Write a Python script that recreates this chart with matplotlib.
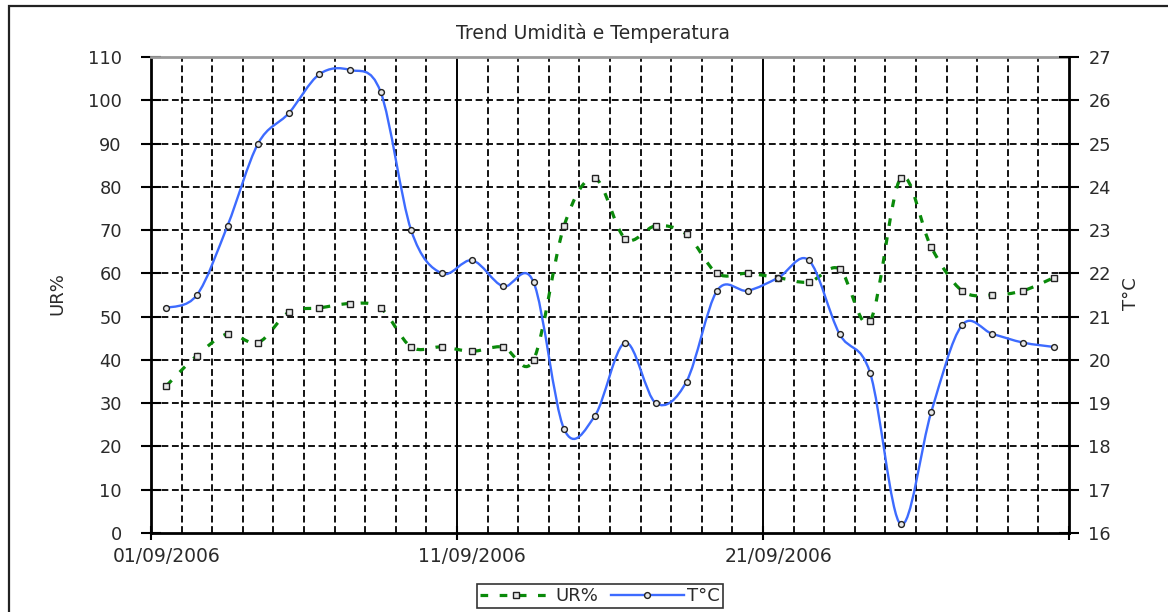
import matplotlib
matplotlib.use("Agg")
import matplotlib.pyplot as plt
from matplotlib.path import Path
from matplotlib.patches import PathPatch, Rectangle
from matplotlib.lines import Line2D
import numpy as np

# ---- data ----
date_labels = ["01/09/2006", "11/09/2006", "21/09/2006"]
label_days = [0, 10, 20]
days = list(range(30))  # 01/09 .. 30/09
ur = [34, 41, 46, 44, 51, 52, 53, 52, 43, 43, 42, 43, 40, 71, 82, 68, 71, 69, 60, 60,
      59, 58, 61, 49, 82, 66, 56, 55, 56, 59]
temp = [21.2, 21.5, 23.1, 25.0, 25.7, 26.6, 26.7, 26.2, 23.0, 22.0, 22.3, 21.7, 21.8, 18.4,
        18.7, 20.4, 19.0, 19.5, 21.6, 21.6, 21.9, 22.3, 20.6, 19.7, 16.2, 18.8, 20.8, 20.6,
        20.4, 20.3]
title = "Trend Umidità e Temperatura"
ur_label = "UR%"
t_label = "T°C"

FONT = ["DejaVu Sans"]
plt.rcParams["font.family"] = FONT
TXT = "#2a2a2a"

GREEN = "#0a8a0a"
BLUE = "#3d6bff"


def smooth_path(xs, ys):
    """Excel-like smoothed line: cubic Bezier through the points."""
    pts = np.column_stack([xs, ys]).astype(float)
    n = len(pts)
    verts = [tuple(pts[0])]
    codes = [Path.MOVETO]
    for i in range(n - 1):
        p0 = pts[i - 1] if i > 0 else pts[i]
        p1 = pts[i]
        p2 = pts[i + 1]
        p3 = pts[i + 2] if i + 2 < n else pts[i + 1]
        c1 = p1 + (p2 - p0) / 6.0
        c2 = p2 - (p3 - p1) / 6.0
        verts += [tuple(c1), tuple(c2), tuple(p2)]
        codes += [Path.CURVE4] * 3
    return Path(verts, codes)


W, H = 1168, 612
fig = plt.figure(figsize=(W / 100, H / 100), dpi=100)
fig.patch.set_facecolor("white")

# outer chart border (continues beyond the image on right / bottom)
fig.patches.append(Rectangle((9 / W, -0.2), 2.0, 1.2 - 6 / H, transform=fig.transFigure,
                             fill=False, edgecolor="#222222", linewidth=1.6))

L, R, T, B = 151, 1069, 57, 533
ax = fig.add_axes([L / W, 1 - B / H, (R - L) / W, (B - T) / H])
ax2 = ax.twinx()

ax.set_xlim(0, 30)
ax.set_ylim(0, 110)
ax2.set_ylim(16, 27)

# grid
dash = (0, (3.8, 2.0))
for d in range(1, 30):
    if d in (10, 20):
        ax.axvline(d, color="black", lw=1.4, zorder=1)
    else:
        ax.axvline(d, color="black", lw=1.3, linestyle=dash, zorder=1)
for v in range(10, 110, 10):
    ax.axhline(v, color="black", lw=1.3, linestyle=dash, zorder=1)

# spines
for sp in ("left", "bottom"):
    ax.spines[sp].set_linewidth(2.0)
    ax.spines[sp].set_color("black")
ax.spines["top"].set_color("#9a9a9a")
ax.spines["top"].set_linewidth(2.0)
ax.spines["right"].set_visible(False)
ax2.spines["right"].set_linewidth(2.0)
ax2.spines["right"].set_color("black")
for sp in ("left", "top", "bottom"):
    ax2.spines[sp].set_visible(False)

# series positions: middle of each day
xs = [d + 0.5 for d in days]

# UR% (left axis)
ur_patch = PathPatch(smooth_path(xs, ur), fill=False, edgecolor=GREEN, lw=2.3,
                     linestyle=(0, (2.4, 3.6)), zorder=3)
ax.add_patch(ur_patch)
ax.plot(xs, ur, linestyle="none", marker="s", markersize=4.4, markerfacecolor="#e8e8e8",
        markeredgecolor="#222222", markeredgewidth=1.0, zorder=4)

# T°C (right axis)
t_patch = PathPatch(smooth_path(xs, temp), fill=False, edgecolor=BLUE, lw=1.7, zorder=3)
ax2.add_patch(t_patch)
ax2.plot(xs, temp, linestyle="none", marker="o", markersize=4.2, markerfacecolor="#e8e8e8",
         markeredgecolor="#222222", markeredgewidth=1.0, zorder=4)

# ticks
ax.set_yticks(range(0, 111, 10))
ax.tick_params(axis="y", direction="inout", length=14, width=1.5, pad=14, labelsize=12.8,
               labelcolor=TXT)
ax2.set_yticks(range(16, 28))
ax2.tick_params(axis="y", direction="inout", length=14, width=1.5, pad=7, labelsize=12.8,
                labelcolor=TXT)

ax.set_xticks([0, 10, 20, 30])
ax.set_xticklabels(["", "", "", ""])
ax.tick_params(axis="x", which="major", direction="inout", length=10, width=1.5)
ax.set_xticks([d + 0.5 for d in label_days], minor=True)
ax.set_xticklabels(date_labels, minor=True)
ax.tick_params(axis="x", which="minor", length=0, pad=10, labelsize=13.5, labelcolor=TXT)

# labels / title
fig.text(593 / W, 1 - 33 / H, title, ha="center", va="center", fontsize=13.5, color=TXT)
fig.text(57 / W, 1 - 294 / H, ur_label, ha="center", va="center", rotation=90,
         fontsize=13, color=TXT)
fig.text(1131 / W, 1 - 294 / H, t_label, ha="center", va="center", rotation=90,
         fontsize=13, color=TXT)

# legend
h1 = Line2D([], [], color=GREEN, lw=2.3, linestyle=(0, (2.4, 3.6)), marker="s",
            markersize=4.4, markerfacecolor="#e8e8e8", markeredgecolor="#222222",
            markeredgewidth=1.0)
h2 = Line2D([], [], color=BLUE, lw=1.7, marker="o", markersize=4.2,
            markerfacecolor="#e8e8e8", markeredgecolor="#222222", markeredgewidth=1.0)
leg = fig.legend([h1, h2], [ur_label, t_label], loc="center",
                 bbox_to_anchor=(600 / W, 1 - 596 / H), ncol=2, fontsize=13,
                 frameon=True, fancybox=False, edgecolor="black", handlelength=4.0,
                 handletextpad=0.2, columnspacing=0.7, borderpad=0.15, borderaxespad=0)
for t in leg.get_texts():
    t.set_color(TXT)
leg.get_frame().set_linewidth(1.2)

fig.savefig("out.png", dpi=100)
